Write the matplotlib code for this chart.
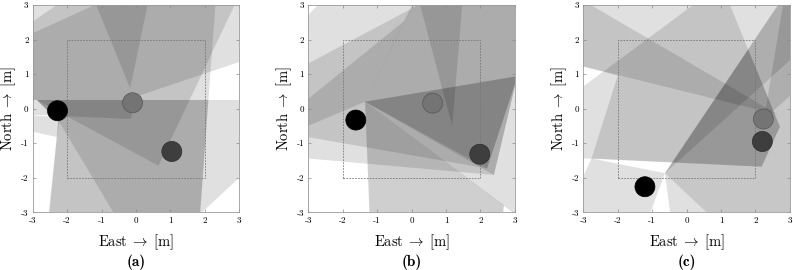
import matplotlib
matplotlib.use("Agg")
import matplotlib.pyplot as plt
from matplotlib.patches import Polygon, Circle, Rectangle

plt.rcParams['mathtext.fontset'] = 'cm'
plt.rcParams['axes.unicode_minus'] = False

# agent positions (East, North) per panel: black, gray, dark gray
agents_a = [(-2.28, -0.06), (-0.10, 0.17), (1.04, -1.24)]
agents_b = [(-1.62, -0.33), (0.61, 0.16), (1.98, -1.32)]
agents_c = [(-1.21, -2.26), (2.23, -0.30), (2.20, -0.95)]
agent_colors = ['#000000', '#747474', '#3e3e3e']
agent_edges = ['#000000', '#555555', '#2a2a2a']

# sensing footprints (polygon vertices in metres)
fov_a = [
    [(-3.6, 3.6), (0.4, 3.6), (-2.88, 0.25), (-3.6, 0.25)],
    [(-3.6, 2.11), (-1.43, 3.6), (0.4, 3.6), (-2.88, 0.25), (-3.6, 0.25)],
    [(-3.6, 1.91), (-1.2, 3.0), (-0.7, 3.6), (0.4, 3.6), (-2.88, 0.25), (-3.6, 0.25)],
    [(-2.88, 0.25), (0.65, -1.65), (3.15, 3.6), (0.4, 3.6)],
    [(-2.88, 0.25), (0.4, 3.6), (2.35, 3.6), (1.82, -3.6), (-0.3, -3.6), (-2.26, -0.33)],
    [(-2.88, 0.25), (0.4, 3.6), (3.6, 3.6), (3.6, 1.55), (0.0, 0.35), (-0.2, 0.25)],
    [(-0.17, 0.59), (-1.4, 3.6), (0.46, 3.6)],
    [(-2.88, 0.25), (3.6, 0.25), (3.6, -1.44), (1.27, -3.6), (-2.57, -3.6), (-2.3, -0.82), (-2.26, -0.33)],
    [(-2.6, -3.6), (-2.3, -0.82), (-2.26, -0.4), (0.65, -1.65), (1.555, 0.25), (2.10, 0.25), (1.82, -3.6)],
    [(-2.88, 0.25), (1.555, 0.25), (0.65, -1.65), (-2.26, -0.4)],
    [(-3.6, 0.25), (0.0, 0.25), (-0.15, -0.3), (-3.6, -0.15)],
    [(-3.6, -0.15), (-2.2, -0.25), (-2.3, -0.82), (-3.6, -0.54)],
]
fov_b = [
    [(-3.6, 2.12), (-2.12, 3.6), (3.6, 3.6), (3.6, 3.16), (2.39, -1.92), (-3.6, -1.39)],
    [(-3.6, 0.99), (1.33, 3.6), (3.6, 3.6), (3.6, 2.5), (2.19, -1.73), (-3.6, -0.72)],
    [(-3.6, -0.2), (-0.2, 2.55), (-1.35, 0.2), (-3.6, -0.75)],
    [(-1.35, 0.2), (0.3, 3.6), (3.6, 3.6), (3.6, -3.5)],
    [(-1.35, 0.2), (2.68, -2.8), (2.6, -3.6), (-1.2, -3.6)],
    [(-1.35, 0.2), (3.07, 0.94), (2.39, -1.92)],
    [(-1.35, 0.2), (3.07, 0.94), (2.19, -1.73)],
    [(1.18, -0.51), (0.09, 3.6), (1.52, 3.6)],
]
fov_c = [
    [(-3.6, 3.6), (-1.16, 3.6), (-2.0, 0.96), (-3.6, 1.37)],
    [(2.65, -0.17), (-3.6, 3.48), (-3.6, 1.37)],
    [(-3.6, 0.2), (0.46, 3.2), (0.46, 3.6), (3.06, 3.6), (1.79, 1.71), (2.71, -0.52), (2.18, -1.68), (-3.6, -1.41)],
    [(-1.16, 3.6), (1.01, 3.6), (2.71, -0.52), (2.18, -1.68), (-2.76, -1.44)],
    [(-3.6, -3.6), (-3.6, -3.25), (-2.76, -1.44), (-0.63, -1.87), (-1.27, -3.6)],
    [(-0.63, -1.87), (-0.40, -3.6), (1.22, -3.6)],
    [(-0.63, -1.87), (3.06, 3.6), (3.6, 3.6), (3.6, 1.94)],
    [(-0.63, -1.87), (3.06, 3.6), (3.6, 3.6), (3.6, -3.6), (1.22, -3.6)],
    [(2.25, -0.3), (2.9, 3.6), (3.6, 3.6), (3.6, 0.9)],
]
# opacity of each footprint
alpha_a = [0.12] * 12
alpha_b = [0.12, 0.12, 0.12, 0.12, 0.19, 0.12, 0.12, 0.12]
alpha_c = [0.12, 0.12, 0.12, 0.12, 0.12, 0.12, 0.12, 0.22, 0.12]

ticks = [-3, -2, -1, 0, 1, 2, 3]
tick_labels = ['-3', '-2', '-1', '0', '1', '2', '3']
panel_names = ['(a)', '(b)', '(c)']

fig = plt.figure(figsize=(7.93, 2.70), dpi=100)
lefts = [32.7, 308.3, 583.3]
panels = [(fov_a, alpha_a, agents_a), (fov_b, alpha_b, agents_b), (fov_c, alpha_c, agents_c)]

for i, (fov, alphas, agents) in enumerate(panels):
    ax = fig.add_axes([lefts[i] / 793, 1 - 212.3 / 270, 206.6 / 793, 207.3 / 270])
    for poly, a in zip(fov, alphas):
        ax.add_patch(Polygon(poly, closed=True, facecolor='black', alpha=a, lw=0))
    ax.add_patch(Rectangle((-2, -2), 4, 4, fill=False, ls=(0, (2, 1.5)), lw=0.6, ec='#777777'))
    for (x, y), fc, ec in zip(agents, agent_colors, agent_edges):
        ax.add_patch(Circle((x, y), 0.29, fc=fc, ec=ec, lw=0.5, zorder=5))
    ax.set_xlim(-3, 3)
    ax.set_ylim(-3, 3)
    ax.set_xticks(ticks)
    ax.set_yticks(ticks)
    ax.set_xticklabels(tick_labels, family='cmr10')
    ax.set_yticklabels(tick_labels, family='cmr10')
    ax.tick_params(direction='in', length=2.5, width=0.5, color='#888888',
                   labelsize=6.5, top=True, right=True, pad=3)
    for s in ax.spines.values():
        s.set_color('#9a9a9a')
        s.set_linewidth(0.6)
    ax.text(0.5, -0.143, r'$\mathrm{East}\;\rightarrow\;[\mathrm{m}]$', transform=ax.transAxes,
            ha='center', va='center', fontsize=10.5)
    ax.text(-0.118, 0.5, r'$\mathrm{North}\;\rightarrow\;[\mathrm{m}]$', transform=ax.transAxes,
            ha='center', va='center', fontsize=10.5, rotation=90)
    ax.text(0.5, -0.24, panel_names[i], transform=ax.transAxes,
            ha='center', va='center', fontsize=11, family='cmb10')

fig.savefig('out.png', dpi=100)
